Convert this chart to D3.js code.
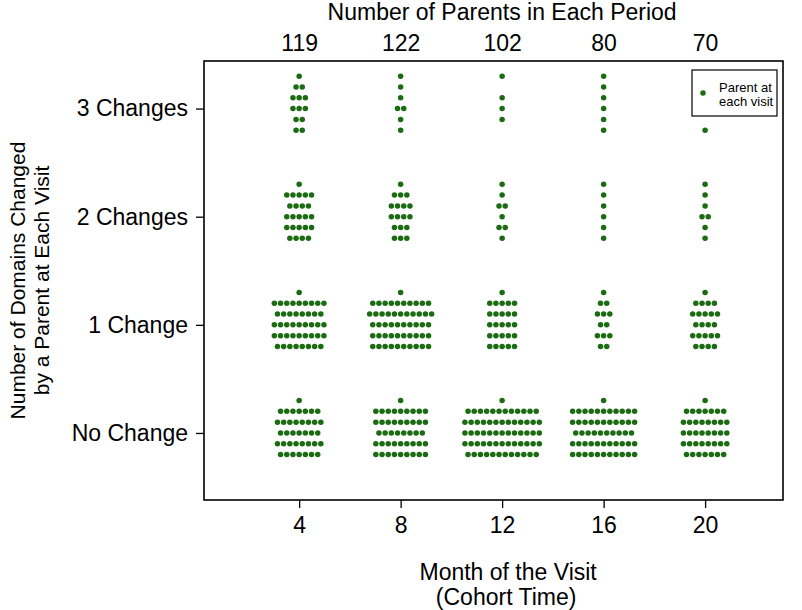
<!DOCTYPE html>
<html><head><meta charset="utf-8">
<script src="https://cdn.jsdelivr.net/npm/d3@7"></script>
<style>body{margin:0;background:#fff}text{font-family:"Liberation Sans",Arial,sans-serif;fill:#000}</style>
</head><body><svg id="c" width="802" height="610"></svg>
<script>
const months = [4, 8, 12, 16, 20];
const parentCounts = [119, 122, 102, 80, 70];
const categories = ["No Change", "1 Change", "2 Changes", "3 Changes"];
const categoryValues = [0, 1, 2, 3];
// sub-levels of each category (value offsets), top row first
const rowLevels = [0.3, 0.2, 0.1, 0, -0.1, -0.2];
// number of dots in each row (top to bottom), one list per month
const dotsNoChange = [[1,7,8,7,8,7],[1,9,9,8,9,9],[1,12,13,13,13,12],[1,11,11,10,11,11],[1,7,8,8,8,7]];
const dots1Change  = [[1,9,8,9,9,8],[1,10,11,10,10,10],[1,5,5,5,5,5],[1,2,3,2,3,2],[1,4,5,4,5,4]];
const dots2Changes = [[1,5,4,5,5,4],[1,3,4,4,3,3],[1,1,2,1,2,1],[1,1,1,1,1,1],[1,1,1,2,1,1]];
const dots3Changes = [[1,2,3,3,2,2],[1,1,1,2,1,1],[1,0,1,1,1,0],[1,1,1,1,1,1],[0,0,0,0,0,1]];
const dotsByCategory = [dotsNoChange, dots1Change, dots2Changes, dots3Changes];

const svg = d3.select("#c");
const L = 204, R = 783, T = 61, B = 500;
const x = d3.scaleLinear().domain([0.25, 23.07]).range([L, R]);
const y = d3.scaleLinear().domain([-0.62, 3.44]).range([B, T]);
const green = "#1b6b12";
const dx = 6.2, rad = 2.75;
const FS = 23;

// build points
const pts = [];
dotsByCategory.forEach((byMonth, ci) => {
  byMonth.forEach((rows, mi) => {
    rows.forEach((n, ri) => {
      for (let k = 0; k < n; k++) {
        pts.push({m: months[mi], v: categoryValues[ci] + rowLevels[ri], off: (k - (n - 1) / 2)});
      }
    });
  });
});
svg.append("g").selectAll("circle").data(pts).join("circle")
  .attr("cx", d => x(d.m) + d.off * dx).attr("cy", d => y(d.v))
  .attr("r", rad).attr("fill", green);

// frame
svg.append("rect").attr("x", L).attr("y", T).attr("width", R - L).attr("height", B - T)
  .attr("fill", "none").attr("stroke", "#000").attr("stroke-width", 1.6);

// bottom axis
const xa = svg.append("g").attr("transform", `translate(0,${B})`)
  .call(d3.axisBottom(x).tickValues(months).tickSize(8).tickPadding(9).tickFormat(d3.format("d")));
xa.select(".domain").remove();
xa.selectAll("line").attr("stroke", "#000").attr("stroke-width", 1.3);
xa.selectAll("text").attr("font-size", FS).style("font-family", "Liberation Sans, Arial");

// left axis
const ya = svg.append("g").attr("transform", `translate(${L},0)`)
  .call(d3.axisLeft(y).tickValues(categoryValues).tickSize(8).tickPadding(8).tickFormat((d, i) => categories[i]));
ya.select(".domain").remove();
ya.selectAll("line").attr("stroke", "#000").attr("stroke-width", 1.3);
ya.selectAll("text").attr("font-size", FS).style("font-family", "Liberation Sans, Arial");

// top axis with counts
const xt = svg.append("g").attr("transform", `translate(0,${T})`)
  .call(d3.axisTop(x).tickValues(months).tickSize(0).tickPadding(10).tickFormat((d, i) => parentCounts[i]));
xt.select(".domain").remove();
xt.selectAll("text").attr("font-size", FS).style("font-family", "Liberation Sans, Arial");

// titles
const cx = x(12);
svg.append("text").attr("x", cx).attr("y", 20).attr("text-anchor", "middle").attr("font-size", FS)
  .text("Number of Parents in Each Period");
svg.append("text").attr("x", cx + 6).attr("y", 580).attr("text-anchor", "middle").attr("font-size", FS)
  .text("Month of the Visit");
svg.append("text").attr("x", cx + 4).attr("y", 605).attr("text-anchor", "middle").attr("font-size", FS)
  .text("(Cohort Time)");
const yt = svg.append("text").attr("transform", `translate(0,${(T + B) / 2}) rotate(-90)`)
  .attr("text-anchor", "middle").attr("font-size", 21);
yt.append("tspan").attr("x", 0).attr("y", 25).text("Number of Domains Changed");
yt.append("tspan").attr("x", 0).attr("y", 49).text("by a Parent at Each Visit");

// legend
const lg = svg.append("g");
lg.append("rect").attr("x", 692).attr("y", 70).attr("width", 85).attr("height", 46)
  .attr("fill", "#fff").attr("stroke", "#000").attr("stroke-width", 1.2);
lg.append("circle").attr("cx", 703).attr("cy", 93).attr("r", rad).attr("fill", green);
lg.append("text").attr("x", 719).attr("y", 92).attr("font-size", 13).text("Parent at");
lg.append("text").attr("x", 719).attr("y", 106).attr("font-size", 13).text("each visit");
</script></body></html>
